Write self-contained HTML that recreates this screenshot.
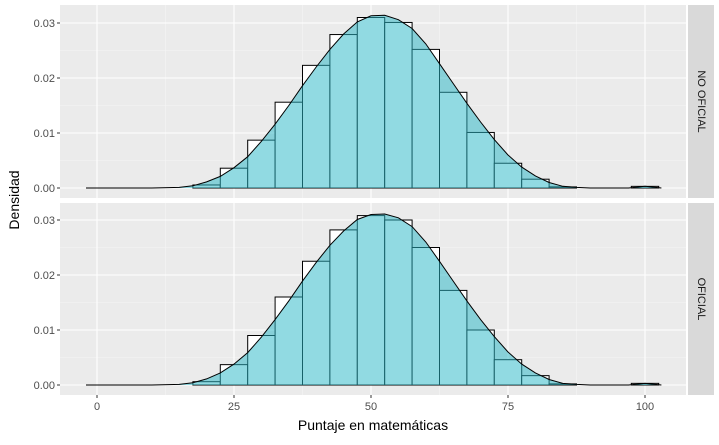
<!DOCTYPE html>
<html><head><meta charset="utf-8"><style>
body{margin:0;background:#fff;font-family:"Liberation Sans",sans-serif}
svg text{font-family:"Liberation Sans",sans-serif}
</style></head><body>
<svg id="c" width="719" height="440"></svg>
<script>
const binStarts=[17.5,22.5,27.5,32.5,37.5,42.5,47.5,52.5,57.5,62.5,67.5,72.5,77.5,82.5,97.5];
const densTop=[0.00055,0.0036,0.0087,0.0156,0.0223,0.0279,0.0310,0.0301,0.0252,0.0174,0.0101,0.0045,0.0016,0.0002,0.0003];
const densBottom=[0.0006,0.0037,0.0090,0.0160,0.0225,0.0282,0.0308,0.0300,0.0250,0.0172,0.0100,0.0046,0.0017,0.0002,0.0003];
const curveX=[-2,10,15,17.5,20,22.5,25,27.5,30,32.5,35,37.5,40,42.5,45,47.5,50,52.5,55,57.5,60,62.5,65,67.5,70,72.5,75,77.5,80,82.5,85,87.5,90,97,100,103];
const curveTop=[0,0,0.0001,0.0004,0.0011,0.0021,0.0037,0.0057,0.0085,0.0116,0.0150,0.0186,0.0220,0.0252,0.0280,0.0302,0.0313,0.0314,0.0306,0.0290,0.0262,0.0226,0.0190,0.0154,0.0120,0.0088,0.0060,0.0038,0.0022,0.0010,0.0003,0.0001,0,0,0.0003,0];
const curveBottom=[0,0,0.0001,0.0004,0.0011,0.0022,0.0038,0.0059,0.0087,0.0119,0.0153,0.0189,0.0223,0.0254,0.0280,0.0301,0.0310,0.0311,0.0304,0.0288,0.0260,0.0225,0.0189,0.0153,0.0119,0.0088,0.0060,0.0038,0.0022,0.0010,0.0003,0.0001,0,0,0.0003,0];
const xTicks=[0,25,50,75,100];
const yTicks=[0,0.01,0.02,0.03];
const yTickLabels=["0.00","0.01","0.02","0.03"];
const panels=[{name:"NO OFICIAL",top:5,bottom:198,zero:188,bars:densTop,curve:curveTop,key:"no-oficial"},
              {name:"OFICIAL",top:203,bottom:395,zero:385,bars:densBottom,curve:curveBottom,key:"oficial"}];
const X0=60,X1=686;
const sx=v=>97+v*5.48;
const NS="http://www.w3.org/2000/svg";
const svg=document.getElementById('c');
function mk(tag,attrs,parent){const e=document.createElementNS(NS,tag);for(const k in attrs)e.setAttribute(k,attrs[k]);(parent||svg).appendChild(e);return e;}
panels.forEach(p=>{
  const sy=v=>p.zero-v*5500;
  const g=mk('g',{});
  
  
  mk('rect',{x:X0,y:p.top,width:X1-X0,height:p.bottom-p.top,fill:'#EBEBEB'},g);
  for(let v=-12.5;v<=112.5;v+=25){const x=sx(v);if(x>X0&&x<X1)mk('line',{x1:x,x2:x,y1:p.top,y2:p.bottom,stroke:'#F5F5F5','stroke-width':0.6},g);}
  for(let v=0.005;v<0.036;v+=0.01){const y=sy(v);if(y>p.top)mk('line',{x1:X0,x2:X1,y1:y,y2:y,stroke:'#F5F5F5','stroke-width':0.6},g);}
  xTicks.forEach(v=>mk('line',{x1:sx(v),x2:sx(v),y1:p.top,y2:p.bottom,stroke:'#fff','stroke-width':1.1},g));
  yTicks.forEach((v,i)=>{const y=sy(v);mk('line',{x1:X0,x2:X1,y1:y,y2:y,stroke:'#fff','stroke-width':1.1},g);
    mk('line',{x1:X0-3,x2:X0,y1:y,y2:y,stroke:'#333'},g);
    const t=mk('text',{x:X0-5,y:y+4,'text-anchor':'end','font-size':11,fill:'#4D4D4D'},g);t.textContent=yTickLabels[i];
    
    });
  binStarts.forEach((b,i)=>{if(p.bars[i]<=0)return;
    const r=mk('rect',{x:sx(b),y:sy(p.bars[i]),width:sx(b+5)-sx(b),height:p.zero-sy(p.bars[i]),fill:'#fff',stroke:'#000','stroke-width':1},g);
    
    });
  let d='M'+sx(curveX[0])+','+p.zero;
  curveX.forEach((v,i)=>d+=' L'+sx(v).toFixed(1)+','+sy(p.curve[i]).toFixed(1));
  d+=' L'+sx(curveX[curveX.length-1])+','+p.zero+' Z';
  const a=mk('path',{d:d,fill:'rgba(45,185,200,0.52)',stroke:'none'},g);
  
  
  let d2='';curveX.forEach((v,i)=>d2+=(i?' L':'M')+sx(v).toFixed(1)+','+sy(p.curve[i]).toFixed(1));
  const l=mk('path',{d:d2,fill:'none',stroke:'#000','stroke-width':1},g);
  
  
  const s=mk('rect',{x:688,y:p.top,width:26,height:p.bottom-p.top,fill:'#D9D9D9'},g);
  
  
  const cy=(p.top+p.bottom)/2;
  const st=mk('text',{x:701,y:cy,transform:'rotate(90 701 '+cy+')','text-anchor':'middle','dominant-baseline':'central','font-size':11,fill:'#1A1A1A'},g);
  st.textContent=p.name;
  
  
});
xTicks.forEach(v=>{mk('line',{x1:sx(v),x2:sx(v),y1:395,y2:398,stroke:'#333'});
  const t=mk('text',{x:sx(v),y:410,'text-anchor':'middle','font-size':11,fill:'#4D4D4D'});t.textContent=v;
  
  });
const xt=mk('text',{x:373,y:430,'text-anchor':'middle','font-size':14,fill:'#000'});xt.textContent='Puntaje en matemáticas';


const yt=mk('text',{x:19,y:200,transform:'rotate(-90 19 200)','text-anchor':'middle','font-size':14,fill:'#000'});yt.textContent='Densidad';


</script>
</body></html>
